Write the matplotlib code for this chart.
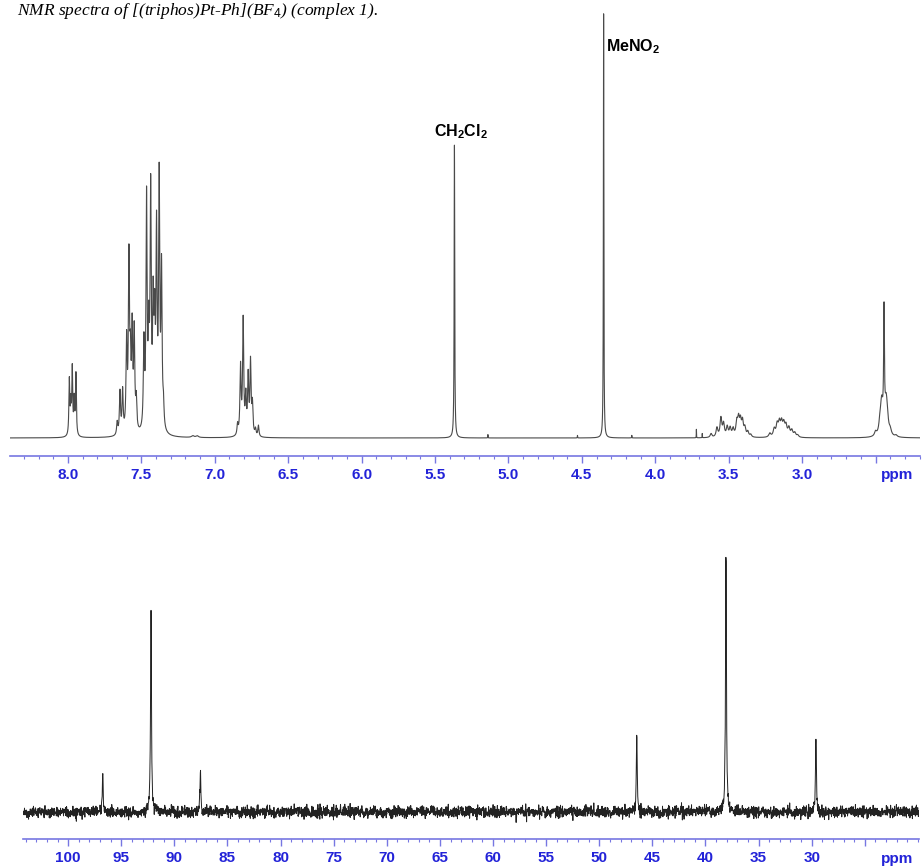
import numpy as np
import matplotlib
matplotlib.use('Agg')
import matplotlib.pyplot as plt
from matplotlib.ticker import MultipleLocator

plt.rcParams['font.family'] = ['Liberation Sans', 'DejaVu Sans']
plt.rcParams['mathtext.fontset'] = 'custom'
plt.rcParams['mathtext.rm'] = 'Liberation Sans'
plt.rcParams['mathtext.bf'] = 'Liberation Sans:bold'
plt.rcParams['mathtext.it'] = 'Liberation Serif:italic'

# --- 1H spectrum peaks: shift [ppm], height [rel.], half width [ppm] ---
h1_shift = [7.991, 7.981, 7.971, 7.958, 7.946,
            7.665, 7.646, 7.628, 7.601, 7.585, 7.575, 7.563, 7.549, 7.535,
            7.483, 7.465, 7.450, 7.437, 7.420, 7.410, 7.397, 7.379, 7.363, 7.350,
            7.15, 7.12,
            6.845, 6.825, 6.807, 6.789, 6.773, 6.757, 6.744, 6.723, 6.703,
            5.368, 5.14, 4.352, 4.53, 4.16,
            3.72, 3.68,
            3.62, 3.58, 3.553, 3.535, 3.51, 3.49, 3.47, 3.445, 3.433, 3.42, 3.406, 3.39, 3.37, 3.35,
            3.22, 3.19, 3.17, 3.155, 3.14, 3.125, 3.11, 3.09, 3.07, 3.05, 3.03,
            2.50, 2.47, 2.458, 2.442, 2.428, 2.42, 2.40, 2.36]
h1_height = [13.0, 7.0, 15.5, 8.0, 14.5,
             3.0, 10.0, 10.0, 21.0, 40.0, 14.0, 23.0, 23.0, 7.0,
             20.0, 54.0, 20.0, 55.0, 27.0, 22.0, 45.0, 58.0, 37.0, 5.0,
             0.4, 0.4,
             2.5, 16.0, 27.0, 8.5, 13.5, 17.0, 7.0, 1.6, 2.6,
             69.0, 0.8, 100.0, 0.6, 0.6,
             2.0, 1.0,
             0.9, 2.2, 4.4, 3.0, 2.3, 2.0, 1.8, 3.2, 3.8, 3.4, 3.4, 2.0, 1.2, 0.6,
             0.9, 1.8, 2.7, 3.0, 3.0, 2.7, 2.4, 2.0, 1.5, 1.0, 0.5,
             1.0, 2.2, 7.5, 27.0, 7.0, 2.5, 1.2, 0.4]
h1_width = [0.0035] * 5 + [0.0045] * 9 + [0.0045] * 10 + [0.01] * 2 + [0.0045] * 9 \
    + [0.0022, 0.001, 0.0018, 0.001, 0.001] + [0.0008, 0.0008] \
    + [0.007] * 14 + [0.008] * 11 \
    + [0.008, 0.008, 0.01, 0.0032, 0.01, 0.009, 0.009, 0.009]

# --- 13C spectrum peaks ---
c13_shift = [96.75, 92.2, 87.55, 46.47, 38.07, 29.6]
c13_height = [15.0, 79.6, 16.2, 29.6, 100.0, 27.7]
c13_width = [0.05, 0.05, 0.05, 0.05, 0.05, 0.05]

h1_ticks = [8.0, 7.5, 7.0, 6.5, 6.0, 5.5, 5.0, 4.5, 4.0, 3.5, 3.0, 2.5]
c13_ticks = [100, 95, 90, 85, 80, 75, 70, 65, 60, 55, 50, 45, 40, 35, 30, 25]

AXIS_COLOR = '#7777e2'
LABEL_COLOR = '#2323d8'


def spectrum(grid, shifts, heights, widths):
    y = np.zeros_like(grid)
    for s, h, w in zip(shifts, heights, widths):
        y += h / (1.0 + ((grid - s) / w) ** 2)
    return y


def style_axis(ax, ticks, minor, ppm_pos):
    for side in ('top', 'left', 'right'):
        ax.spines[side].set_visible(False)
    ax.spines['bottom'].set_color(AXIS_COLOR)
    ax.spines['bottom'].set_linewidth(1.2)
    ax.set_yticks([])
    ax.set_xticks(ticks)
    labels = [('%.1f' % t if isinstance(t, float) else '%d' % t) for t in ticks]
    labels[-1] = ''  # last major tick carries the unit instead
    ax.set_xticklabels(labels)
    ax.xaxis.set_minor_locator(MultipleLocator(minor))
    ax.tick_params(axis='x', which='major', direction='out', length=5, width=1,
                   color=AXIS_COLOR, labelcolor=LABEL_COLOR, labelsize=11, pad=4)
    ax.tick_params(axis='x', which='minor', direction='out', length=2.2, width=0.8,
                   color=AXIS_COLOR)
    for lab in ax.get_xticklabels():
        lab.set_fontweight('bold')
    ax.annotate('ppm', xy=(ppm_pos, 0), xycoords=('data', 'axes fraction'),
                xytext=(0, -9), textcoords='offset points', ha='center', va='top',
                fontsize=11, fontweight='bold', color=LABEL_COLOR)
    ax.patch.set_alpha(0)


fig = plt.figure(figsize=(9.22, 8.67), dpi=100)

# 1H spectrum
ax1 = fig.add_axes([10 / 922, 1 - 456 / 867, 910 / 922, 456 / 867])
grid1 = np.linspace(8.395, 2.197, 24000)
ax1.plot(grid1, spectrum(grid1, h1_shift, h1_height, h1_width), color='#4a4a4a', lw=0.8)
ax1.set_xlim(8.395, 2.197)
ax1.set_ylim(-4.24, 103.1)
style_axis(ax1, h1_ticks, 0.1, 2.354)
ax1.text(5.327, 72, r'CH$_\mathbf{2}$Cl$_\mathbf{2}$', ha='center', va='center',
         fontsize=11.5, fontweight='bold')
ax1.text(4.337, 92.2, r'MeNO$_\mathbf{2}$', ha='left', va='center',
         fontsize=11.5, fontweight='bold')

# 13C spectrum
ax2 = fig.add_axes([23 / 922, 1 - 839 / 867, 896 / 922, 339 / 867])
grid2 = np.linspace(104.25, 19.9, 4200)
rng = np.random.default_rng(7)
baseline_noise = rng.normal(0, 1.1, grid2.size)
ax2.plot(grid2, spectrum(grid2, c13_shift, c13_height, c13_width) + baseline_noise,
         color='#222222', lw=0.7)
ax2.set_xlim(104.25, 19.9)
ax2.set_ylim(-10.4, 120)
style_axis(ax2, c13_ticks, 1, 22.0)

fig.text(17 / 922, 1 - 15 / 867,
         r'NMR spectra of [(triphos)Pt-Ph](BF$_{\mathit{4}}$) (complex 1).',
         family='Liberation Serif', style='italic', fontsize=12.5, va='baseline', ha='left')

fig.savefig('out.png', dpi=100)
